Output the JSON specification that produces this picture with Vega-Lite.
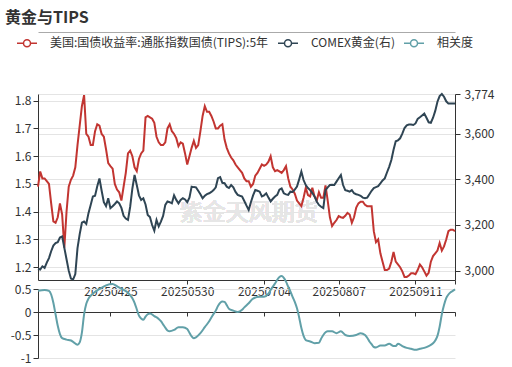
{
"$schema": "https://vega.github.io/schema/vega-lite/v6.json",
"background": "white",
"padding": {"left": 5, "top": 10, "right": 5, "bottom": 3},
"bounds": "flush",
"spacing": 62,
"title": {"text": "黄金与TIPS", "anchor": "start", "frame": "group", "dx": -33, "offset": 5, "fontSize": 16, "fontWeight": "bold", "color": "#333", "font": "Noto Sans CJK SC"},
"resolve": {"scale": {"color": "shared", "x": "independent", "y": "independent"}},
"data": {"values": [
{"d":"2025-03-23","t":1.49,"g":3008,"c":0.46},
{"d":"2025-03-24","t":1.545,"g":3005},
{"d":"2025-03-25","t":1.52,"g":3019},
{"d":"2025-03-26","t":1.52,"g":3012,"c":0.48},
{"d":"2025-03-27","t":1.51,"g":3035},
{"d":"2025-03-28","t":1.5,"g":3055,"c":0.46},
{"d":"2025-03-29","t":1.43,"g":3085,"c":0.38},
{"d":"2025-03-30","t":1.365,"g":3110,"c":0.2},
{"d":"2025-03-31","t":1.36,"g":3121,"c":-0.05},
{"d":"2025-04-01","t":1.38,"g":3125,"c":-0.3},
{"d":"2025-04-02","t":1.43,"g":3145,"c":-0.48},
{"d":"2025-04-03","t":1.39,"g":3150,"c":-0.57},
{"d":"2025-04-04","t":1.27,"g":3100},
{"d":"2025-04-05","t":1.4,"g":3050,"c":-0.6},
{"d":"2025-04-06","t":1.49,"g":3000},
{"d":"2025-04-07","t":1.515,"g":2965,"c":-0.62},
{"d":"2025-04-08","t":1.53,"g":2961,"c":-0.65},
{"d":"2025-04-09","t":1.56,"g":2985},
{"d":"2025-04-10","t":1.64,"g":3099,"c":-0.71},
{"d":"2025-04-11","t":1.71,"g":3160,"c":-0.66},
{"d":"2025-04-12","t":1.78,"g":3210,"c":-0.45},
{"d":"2025-04-13","t":1.82,"g":3215,"c":-0.05},
{"d":"2025-04-14","t":1.68,"g":3205,"c":0.18},
{"d":"2025-04-15","t":1.67,"g":3252,"c":0.29},
{"d":"2025-04-16","t":1.64,"g":3288},
{"d":"2025-04-17","t":1.64,"g":3325,"c":0.4},
{"d":"2025-04-18","t":1.69,"g":3328},
{"d":"2025-04-19","t":1.715,"g":3370},
{"d":"2025-04-20","t":1.71,"g":3404,"c":0.5},
{"d":"2025-04-21","t":1.68,"g":3350},
{"d":"2025-04-22","t":1.67,"g":3300},
{"d":"2025-04-23","t":1.625,"g":3283,"c":0.58},
{"d":"2025-04-24","t":1.575,"g":3317},
{"d":"2025-04-25","t":1.564,"g":3274},
{"d":"2025-04-26","t":1.555,"g":3282,"c":0.61},
{"d":"2025-04-27","t":1.5,"g":3292},
{"d":"2025-04-28","t":1.48,"g":3303,"c":0.56},
{"d":"2025-04-29","t":1.47,"g":3295},
{"d":"2025-04-30","t":1.44,"g":3275},
{"d":"2025-05-01","t":1.49,"g":3240,"c":0.48},
{"d":"2025-05-02","t":1.54,"g":3228},
{"d":"2025-05-03","t":1.61,"g":3222,"c":0.42},
{"d":"2025-05-04","t":1.62,"g":3280},
{"d":"2025-05-05","t":1.6,"g":3360,"c":0.3},
{"d":"2025-05-06","t":1.56,"g":3419,"c":0.2},
{"d":"2025-05-07","t":1.546,"g":3375,"c":0.06},
{"d":"2025-05-08","t":1.59,"g":3330,"c":-0.08},
{"d":"2025-05-09","t":1.61,"g":3310,"c":-0.14},
{"d":"2025-05-10","t":1.62,"g":3317,"c":-0.17},
{"d":"2025-05-11","t":1.74,"g":3290,"c":-0.1},
{"d":"2025-05-12","t":1.745,"g":3244,"c":-0.05},
{"d":"2025-05-13","t":1.74,"g":3235,"c":-0.03},
{"d":"2025-05-14","t":1.735,"g":3200},
{"d":"2025-05-15","t":1.72,"g":3175,"c":-0.09},
{"d":"2025-05-16","t":1.67,"g":3222},
{"d":"2025-05-17","t":1.65,"g":3194,"c":-0.15},
{"d":"2025-05-18","t":1.64,"g":3215,"c":-0.2},
{"d":"2025-05-19","t":1.64,"g":3240,"c":-0.27},
{"d":"2025-05-20","t":1.65,"g":3288,"c":-0.34},
{"d":"2025-05-21","t":1.7,"g":3303,"c":-0.4},
{"d":"2025-05-22","t":1.715,"g":3300,"c":-0.42},
{"d":"2025-05-23","t":1.69,"g":3295},
{"d":"2025-05-24","t":1.68,"g":3330,"c":-0.39},
{"d":"2025-05-25","t":1.665,"g":3310},
{"d":"2025-05-26","t":1.636,"g":3295,"c":-0.33},
{"d":"2025-05-27","t":1.65,"g":3310},
{"d":"2025-05-28","t":1.645,"g":3317,"c":-0.33},
{"d":"2025-05-29","t":1.61,"g":3312},
{"d":"2025-05-30","t":1.57,"g":3300,"c":-0.37},
{"d":"2025-05-31","t":1.6,"g":3320,"c":-0.45},
{"d":"2025-06-01","t":1.63,"g":3368,"c":-0.53},
{"d":"2025-06-02","t":1.655,"g":3366,"c":-0.57},
{"d":"2025-06-03","t":1.63,"g":3365,"c":-0.55},
{"d":"2025-06-04","t":1.64,"g":3350},
{"d":"2025-06-05","t":1.69,"g":3335,"c":-0.46},
{"d":"2025-06-06","t":1.745,"g":3317},
{"d":"2025-06-07","t":1.78,"g":3328,"c":-0.33},
{"d":"2025-06-08","t":1.76,"g":3335},
{"d":"2025-06-09","t":1.76,"g":3339,"c":-0.2},
{"d":"2025-06-10","t":1.745,"g":3345,"c":-0.12},
{"d":"2025-06-11","t":1.725,"g":3353,"c":-0.04},
{"d":"2025-06-12","t":1.7,"g":3365,"c":0.03},
{"d":"2025-06-13","t":1.7,"g":3405,"c":0.13},
{"d":"2025-06-14","t":1.71,"g":3410},
{"d":"2025-06-15","t":1.715,"g":3385,"c":0.23},
{"d":"2025-06-16","t":1.66,"g":3383,"c":0.22},
{"d":"2025-06-17","t":1.63,"g":3368,"c":0.15},
{"d":"2025-06-18","t":1.61,"g":3362,"c":0.07},
{"d":"2025-06-19","t":1.595,"g":3375},
{"d":"2025-06-20","t":1.585,"g":3365,"c":0.03},
{"d":"2025-06-21","t":1.57,"g":3345},
{"d":"2025-06-22","t":1.56,"g":3332,"c":0.0},
{"d":"2025-06-23","t":1.55,"g":3328},
{"d":"2025-06-24","t":1.54,"g":3325,"c":0.05},
{"d":"2025-06-25","t":1.52,"g":3305,"c":0.1},
{"d":"2025-06-26","t":1.51,"g":3285},
{"d":"2025-06-27","t":1.51,"g":3266,"c":0.19},
{"d":"2025-06-28","t":1.49,"g":3300},
{"d":"2025-06-29","t":1.5,"g":3330,"c":0.29},
{"d":"2025-06-30","t":1.53,"g":3353},
{"d":"2025-07-01","t":1.54,"g":3350},
{"d":"2025-07-02","t":1.555,"g":3346,"c":0.33},
{"d":"2025-07-03","t":1.57,"g":3325},
{"d":"2025-07-04","t":1.565,"g":3330,"c":0.33},
{"d":"2025-07-05","t":1.57,"g":3339},
{"d":"2025-07-06","t":1.58,"g":3320,"c":0.4},
{"d":"2025-07-07","t":1.6,"g":3303,"c":0.48},
{"d":"2025-07-08","t":1.56,"g":3315},
{"d":"2025-07-09","t":1.546,"g":3325,"c":0.62},
{"d":"2025-07-10","t":1.55,"g":3332},
{"d":"2025-07-11","t":1.545,"g":3355,"c":0.76},
{"d":"2025-07-12","t":1.54,"g":3360,"c":0.78},
{"d":"2025-07-13","t":1.55,"g":3339,"c":0.74},
{"d":"2025-07-14","t":1.564,"g":3334,"c":0.66},
{"d":"2025-07-15","t":1.52,"g":3332,"c":0.55},
{"d":"2025-07-16","t":1.49,"g":3346,"c":0.45},
{"d":"2025-07-17","t":1.48,"g":3345,"c":0.33},
{"d":"2025-07-18","t":1.465,"g":3355,"c":0.22},
{"d":"2025-07-19","t":1.44,"g":3368,"c":0.08},
{"d":"2025-07-20","t":1.43,"g":3400,"c":-0.12},
{"d":"2025-07-21","t":1.42,"g":3434,"c":-0.35},
{"d":"2025-07-22","t":1.45,"g":3397,"c":-0.52},
{"d":"2025-07-23","t":1.486,"g":3375,"c":-0.61},
{"d":"2025-07-24","t":1.46,"g":3362},
{"d":"2025-07-25","t":1.455,"g":3353,"c":-0.64},
{"d":"2025-07-26","t":1.486,"g":3340},
{"d":"2025-07-27","t":1.455,"g":3325,"c":-0.68},
{"d":"2025-07-28","t":1.44,"g":3303},
{"d":"2025-07-29","t":1.47,"g":3288,"c":-0.67},
{"d":"2025-07-30","t":1.45,"g":3280,"c":-0.58},
{"d":"2025-07-31","t":1.45,"g":3274,"c":-0.5},
{"d":"2025-08-01","t":1.495,"g":3353},
{"d":"2025-08-02","t":1.44,"g":3365,"c":-0.42},
{"d":"2025-08-03","t":1.38,"g":3375},
{"d":"2025-08-04","t":1.348,"g":3376,"c":-0.42},
{"d":"2025-08-05","t":1.36,"g":3375},
{"d":"2025-08-06","t":1.37,"g":3390,"c":-0.46},
{"d":"2025-08-07","t":1.384,"g":3405},
{"d":"2025-08-08","t":1.38,"g":3419,"c":-0.42},
{"d":"2025-08-09","t":1.378,"g":3375},
{"d":"2025-08-10","t":1.385,"g":3353,"c":-0.5},
{"d":"2025-08-11","t":1.396,"g":3350},
{"d":"2025-08-12","t":1.39,"g":3346,"c":-0.52},
{"d":"2025-08-13","t":1.36,"g":3353},
{"d":"2025-08-14","t":1.38,"g":3339},
{"d":"2025-08-15","t":1.415,"g":3335,"c":-0.5},
{"d":"2025-08-16","t":1.43,"g":3332},
{"d":"2025-08-17","t":1.436,"g":3328,"c":-0.46},
{"d":"2025-08-18","t":1.436,"g":3320},
{"d":"2025-08-19","t":1.425,"g":3317,"c":-0.5},
{"d":"2025-08-20","t":1.42,"g":3320,"c":-0.56},
{"d":"2025-08-21","t":1.42,"g":3335,"c":-0.64},
{"d":"2025-08-22","t":1.42,"g":3350,"c":-0.7},
{"d":"2025-08-23","t":1.33,"g":3362,"c":-0.76},
{"d":"2025-08-24","t":1.29,"g":3366,"c":-0.77},
{"d":"2025-08-25","t":1.3,"g":3370},
{"d":"2025-08-26","t":1.25,"g":3382,"c":-0.73},
{"d":"2025-08-27","t":1.22,"g":3395},
{"d":"2025-08-28","t":1.19,"g":3404,"c":-0.73},
{"d":"2025-08-29","t":1.19,"g":3430},
{"d":"2025-08-30","t":1.195,"g":3455,"c":-0.69},
{"d":"2025-08-31","t":1.22,"g":3485},
{"d":"2025-09-01","t":1.255,"g":3530,"c":-0.74},
{"d":"2025-09-02","t":1.22,"g":3567,"c":-0.74},
{"d":"2025-09-03","t":1.21,"g":3571,"c":-0.69},
{"d":"2025-09-04","t":1.2,"g":3580},
{"d":"2025-09-05","t":1.185,"g":3600,"c":-0.74},
{"d":"2025-09-06","t":1.165,"g":3625},
{"d":"2025-09-07","t":1.165,"g":3637,"c":-0.78},
{"d":"2025-09-08","t":1.17,"g":3640},
{"d":"2025-09-09","t":1.178,"g":3640,"c":-0.8},
{"d":"2025-09-10","t":1.178,"g":3638},
{"d":"2025-09-11","t":1.175,"g":3645,"c":-0.82},
{"d":"2025-09-12","t":1.19,"g":3665},
{"d":"2025-09-13","t":1.21,"g":3672,"c":-0.8},
{"d":"2025-09-14","t":1.2,"g":3680},
{"d":"2025-09-15","t":1.185,"g":3688,"c":-0.78},
{"d":"2025-09-16","t":1.17,"g":3670},
{"d":"2025-09-17","t":1.18,"g":3650,"c":-0.74},
{"d":"2025-09-18","t":1.22,"g":3648},
{"d":"2025-09-19","t":1.24,"g":3670,"c":-0.68},
{"d":"2025-09-20","t":1.25,"g":3700,"c":-0.62},
{"d":"2025-09-21","t":1.26,"g":3740,"c":-0.52},
{"d":"2025-09-22","t":1.287,"g":3765,"c":-0.32},
{"d":"2025-09-23","t":1.26,"g":3774,"c":-0.05},
{"d":"2025-09-24","t":1.275,"g":3762,"c":0.15},
{"d":"2025-09-25","t":1.3,"g":3742,"c":0.3},
{"d":"2025-09-26","t":1.33,"g":3732,"c":0.38},
{"d":"2025-09-27","t":1.335,"g":3732,"c":0.43},
{"d":"2025-09-28","t":1.335,"g":3732,"c":0.46},
{"d":"2025-09-29","t":1.33,"g":3732,"c":0.49}
]},
"vconcat": [
{
"width": 417, "height": 1,
"mark": {"type": "rule", "opacity": 0},
"encoding": {
"x": {"field": "d", "type": "temporal", "scale": {"type": "utc", "domain": [{"year": 2025, "month": 3, "date": 23, "utc": true}, {"year": 2025, "month": 9, "date": 29, "utc": true}]},
"axis": {"orient": "bottom", "title": null, "labels": false, "ticks": false, "grid": false, "domain": true, "domainColor": "#aaaaaa", "domainWidth": 1}}
}
},
{
"bounds": "flush",
"spacing": 9,
"resolve": {"scale": {"color": "shared", "x": "independent", "y": "independent"}},
"vconcat": [
{
"width": 417, "height": 186,
"resolve": {"scale": {"y": "independent"}, "axis": {"x": "independent", "y": "independent"}},
"layer": [
{
"mark": {"type": "text", "text": "紫金天风期货", "fontSize": 23, "color": "#e6e6e6", "font": "Noto Sans CJK SC"},
"encoding": {
"x": {"datum": {"year": 2025, "month": 6, "date": 27, "utc": true}, "type": "temporal", "scale": {"type": "utc", "domain": [{"year": 2025, "month": 3, "date": 23, "utc": true}, {"year": 2025, "month": 9, "date": 29, "utc": true}]}, "axis": null},
"y": {"datum": 1.396, "type": "quantitative", "scale": {"domain": [1.154, 1.824], "nice": false, "zero": false}, "axis": null}
}
},
{
"mark": {"type": "line", "strokeWidth": 2},
"encoding": {
"x": {"field": "d", "type": "temporal", "scale": {"type": "utc", "domain": [{"year": 2025, "month": 3, "date": 23, "utc": true}, {"year": 2025, "month": 9, "date": 29, "utc": true}]},
"axis": {"orient": "bottom", "title": null, "grid": false, "values": [{"year": 2025, "month": 4, "date": 25, "utc": true}, {"year": 2025, "month": 5, "date": 30, "utc": true}, {"year": 2025, "month": 7, "date": 4, "utc": true}, {"year": 2025, "month": 8, "date": 7, "utc": true}, {"year": 2025, "month": 9, "date": 11, "utc": true}, {"year": 2025, "month": 9, "date": 29, "utc": true}], "labelExpr": "utcmonth(datum.value)==8 && utcdate(datum.value)>20 ? '' : utcFormat(datum.value,'%Y%m%d')", "tickSize": 4, "labelPadding": 2, "labelFlush": false, "labelOverlap": false}},
"y": {"field": "t", "type": "quantitative", "scale": {"domain": [1.154, 1.824], "nice": false, "zero": false},
"axis": {"orient": "left", "title": null, "values": [1.2, 1.3, 1.4, 1.5, 1.6, 1.7, 1.8], "format": ".1f", "grid": true, "tickSize": 5, "labelPadding": 2}},
"color": {"datum": "美国:国债收益率:通胀指数国债(TIPS):5年", "type": "nominal",
"scale": {"domain": ["美国:国债收益率:通胀指数国债(TIPS):5年", "COMEX黄金(右)", "相关度"], "range": ["#c23531", "#2f4554", "#61a0a8"]},
"legend": {"title": null, "orient": "none", "legendX": -22, "legendY": 1, "direction": "horizontal", "symbolType": "M-1,0H-0.35M0.35,0H1M-0.35,0A0.35,0.35,0,1,0,0.35,0A0.35,0.35,0,1,0,-0.35,0", "symbolSize": 400, "symbolStrokeWidth": 1.5, "symbolFillColor": "#ffffff", "labelFontSize": 12, "labelColor": "#333", "labelOffset": 12, "columnPadding": 6, "labelLimit": 400, "labelFont": "Noto Sans CJK SC"}}
}
},
{
"mark": {"type": "line", "strokeWidth": 2},
"encoding": {
"x": {"field": "d", "type": "temporal", "scale": {"type": "utc", "domain": [{"year": 2025, "month": 3, "date": 23, "utc": true}, {"year": 2025, "month": 9, "date": 29, "utc": true}]}, "axis": null},
"y": {"field": "g", "type": "quantitative", "scale": {"domain": [2959, 3774], "nice": false, "zero": false},
"axis": {"orient": "right", "title": null, "values": [3000, 3200, 3400, 3600, 3774], "format": ",.0f", "grid": true, "tickSize": 5, "labelPadding": 4}},
"color": {"datum": "COMEX黄金(右)", "type": "nominal"}
}
}
]
},
{
"width": 417, "height": 69,
"transform": [{"filter": "isValid(datum.c)"}],
"mark": {"type": "line", "strokeWidth": 2, "interpolate": "monotone"},
"encoding": {
"x": {"field": "d", "type": "temporal", "scale": {"type": "utc", "domain": [{"year": 2025, "month": 3, "date": 23, "utc": true}, {"year": 2025, "month": 9, "date": 29, "utc": true}]},
"axis": {"orient": "bottom", "offset": -46, "title": null, "labels": false, "grid": false, "tickSize": 4, "values": [{"year": 2025, "month": 4, "date": 25, "utc": true}, {"year": 2025, "month": 5, "date": 30, "utc": true}, {"year": 2025, "month": 7, "date": 4, "utc": true}, {"year": 2025, "month": 8, "date": 7, "utc": true}, {"year": 2025, "month": 9, "date": 11, "utc": true}, {"year": 2025, "month": 9, "date": 29, "utc": true}]}},
"y": {"field": "c", "type": "quantitative", "scale": {"domain": [-1, 0.5], "nice": false, "zero": false},
"axis": {"title": null, "values": [-1, -0.5, 0, 0.5], "labelExpr": "'' + datum.value", "grid": true, "tickSize": 5, "labelPadding": 2}},
"color": {"datum": "相关度", "type": "nominal"}
}
}
]
}
],
"config": {
"font": "Noto Sans CJK SC",
"view": {"stroke": null},
"axis": {"labelFontSize": 12, "labelColor": "#333", "labelFont": "Noto Sans CJK SC", "domainColor": "#333", "tickColor": "#333", "gridColor": "#e4e4e4", "gridWidth": 1}
}
}
